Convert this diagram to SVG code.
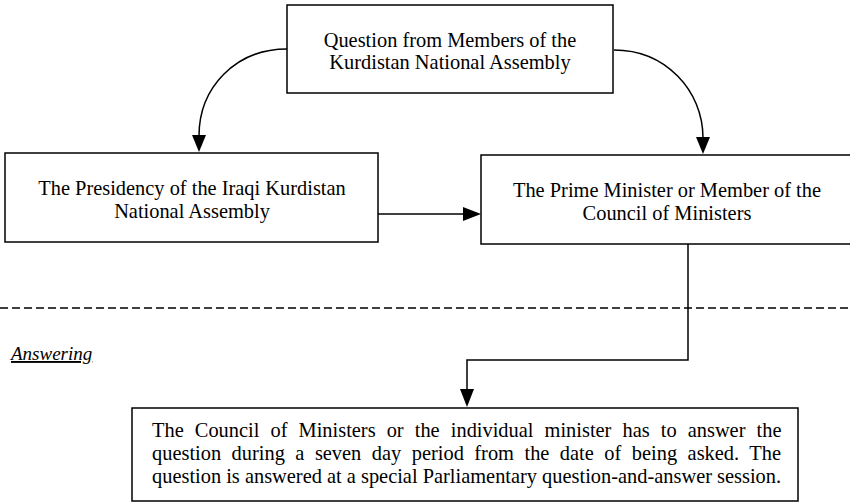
<svg xmlns="http://www.w3.org/2000/svg" width="850" height="503" viewBox="0 0 850 503" font-family="'Liberation Serif', 'DejaVu Serif', 'Times New Roman', serif">
<style>
.box{fill:#fff;stroke:#000;stroke-width:1.5}
text{font-family:'Liberation Serif','DejaVu Serif','Times New Roman',serif;font-size:20.4px;fill:#000}
.c{text-anchor:middle}
.ln{fill:none;stroke:#000;stroke-width:1.5}
.ah{fill:#000;stroke:none}
.it{font-style:italic;font-size:19px;text-decoration:underline}
</style>
<rect width="850" height="503" fill="#fff"/>
<g id="connectors">
<path class="ln" d="M287,49 C235,49 199,88 199,136"/>
<polygon class="ah" points="192,135 206,135 199,152"/>
<path class="ln" d="M614,50 C665,50 703,90 703,138"/>
<polygon class="ah" points="696,137 710,137 703,154"/>
<line class="ln" x1="378" y1="214" x2="465" y2="214"/>
<polygon class="ah" points="463,207 463,221 481,214"/>
<polyline class="ln" points="688,244 688,360 467,360 467,390"/>
<polygon class="ah" points="460,389 474,389 467,407"/>
</g>
<line id="divider" x1="0" y1="308" x2="850" y2="308" stroke="#000" stroke-width="1.5" stroke-dasharray="8,4"/>
<g id="node-question">
<rect class="box" x="287" y="5" width="326" height="88"/>
<text class="c" x="450" y="47">Question from Members of the</text>
<text class="c" x="450" y="69">Kurdistan National Assembly</text>
</g>
<g id="node-presidency">
<rect class="box" x="5" y="153" width="373" height="89"/>
<text class="c" x="192" y="195">The Presidency of the Iraqi Kurdistan</text>
<text class="c" x="192" y="218">National Assembly</text>
</g>
<g id="node-minister">
<rect class="box" x="481" y="155" width="380" height="89"/>
<text class="c" x="667" y="197">The Prime Minister or Member of the</text>
<text class="c" x="667" y="220">Council of Ministers</text>
</g>
<text id="label-answering" class="it" x="11" y="360">Answering</text>
<g id="node-answer">
<rect class="box" x="132" y="408" width="666" height="93"/>
<text x="152" y="437" word-spacing="6">The Council of Ministers or the individual minister has to answer the</text>
<text x="152" y="460" word-spacing="5.4">question during a seven day period from the date of being asked. The</text>
<text x="152" y="483">question is answered at a special Parliamentary question-and-answer session.</text>
</g>
</svg>
